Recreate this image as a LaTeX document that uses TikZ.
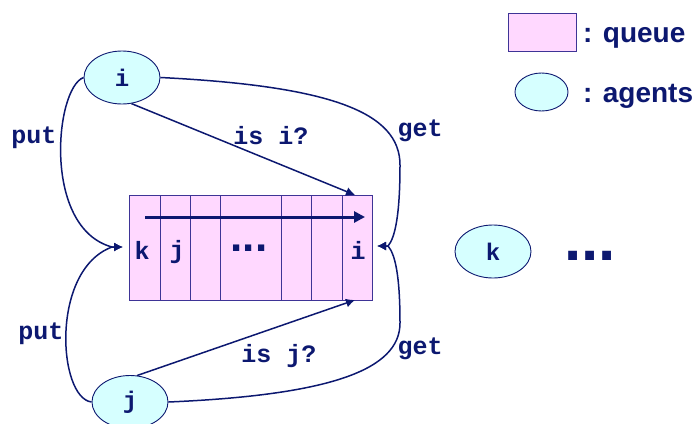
\documentclass[tikz,border=0pt]{standalone}
\usepackage{fontspec}
\setmainfont{Liberation Sans}
\newfontfamily\cour{Liberation Mono}
\usetikzlibrary{arrows.meta,shapes.geometric}
\definecolor{navy}{RGB}{12,24,112}
\definecolor{qpink}{RGB}{255,216,255}
\definecolor{acyan}{RGB}{214,255,255}
\definecolor{qline}{RGB}{62,52,150}
\begin{document}
\begin{tikzpicture}[x=1pt,y=-1pt,
  agent/.style={ellipse, draw=navy, fill=acyan, line width=0.9pt, minimum width=76pt, minimum height=53pt, inner sep=0pt, text=navy, font=\cour\bfseries\fontsize{24}{24}\selectfont},
  lbl/.style={text=navy, font=\cour\bfseries\fontsize{25}{25}\selectfont, inner sep=0pt},
  leg/.style={text=navy, font=\bfseries\fontsize{28}{28}\selectfont, inner sep=0pt, anchor=base west},
  conn/.style={draw=navy, line width=1.5pt},
  tip/.style={-{Latex[length=9pt,width=9pt]}},
  cell/.style={draw=qline, line width=0.9pt},
  ]
\useasboundingbox (0,0) rectangle (698,423);

% queue
\node[draw=qline, fill=qpink, line width=1pt, minimum width=243pt, minimum height=105pt, inner sep=0pt, anchor=north west] (q) at (129,195) {};
\foreach \x in {160,190,220,281,311,342} \draw[cell] (\x,195) -- (\x,300);
\node[lbl] (qk) at (142,250) {k};
\node[lbl] (qj) at (177,252) {j};
\node[lbl, font=\bfseries\fontsize{44}{44}\selectfont] (qd) at (249,248.5) {...};
\node[lbl] (qi) at (358,250) {i};
\coordinate (qa) at (145,217);
\coordinate (qb) at (365,217);
\draw[navy, line width=3pt, -{Triangle[length=11pt,width=11pt]}] (qa) -- (qb);

% agents
\node[agent] (i) at (122,77.5) {\raisebox{-1pt}{i}};
\node[agent] (j) at (130,402) {\raisebox{-8pt}{j}};
\node[agent] (k) at (493,251.5) {\raisebox{-5pt}{k}};
\node[lbl, font=\bfseries\fontsize{62}{62}\selectfont] (dots) at (590,256) {...};

% legend
\node[draw=qline, fill=qpink, line width=1pt, minimum width=68pt, minimum height=38pt, inner sep=0pt] (lq) at (542,32) {};
\node[leg] (lqt) at (583,42) {: queue};
\node[ellipse, draw=navy, fill=acyan, line width=0.9pt, minimum width=53pt, minimum height=38pt, inner sep=0pt] (la) at (541.5,92) {};
\node[leg] (lat) at (583,102) {: agents};

% connector points
\coordinate (pm) at (112,247);
\coordinate (ptip) at (123,247);
\coordinate (gm) at (388,246);
\coordinate (gtip) at (377,246);
\coordinate (ti) at (355,195);
\coordinate (tj) at (355,300);

% put
\draw[conn,tip] (i.west) .. controls (55,88) and (42,228) .. (pm) -- (ptip);
\draw[conn,tip] (j.west) .. controls (58,398) and (50,270) .. (pm) -- (ptip);
% get
\draw[conn,tip] (i.east) .. controls (330,86) and (400,112) .. (400,165) .. controls (400,215) and (395,238) .. (gm) -- (gtip);
\draw[conn,tip] (j.east) .. controls (330,395) and (400,370) .. (400,323) .. controls (400,275) and (395,254) .. (gm) -- (gtip);
% is ?
\draw[conn,tip] (i.290) -- (ti);
\draw[conn,tip] (j.75) -- (tj);

% labels
\node[lbl] (put1) at (34,138) {put};
\node[lbl] (put2) at (41,334) {put};
\node[lbl] (isi) at (271,136) {is i?};
\node[lbl] (isj) at (279,356) {is j?};
\node[lbl] (get1) at (420,131) {get};
\node[lbl] (get2) at (420,349) {get};
\end{tikzpicture}
\end{document}
